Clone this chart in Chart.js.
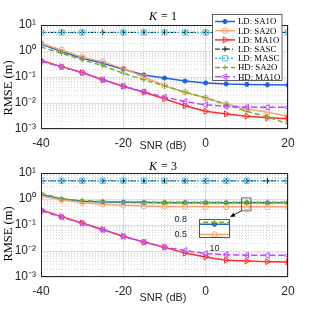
<!DOCTYPE html>
<html>
<head>
<meta charset="utf-8">
<script src="https://cdn.jsdelivr.net/npm/chart.js@4.4.0/dist/chart.umd.min.js"></script>
<style>
  html, body { margin: 0; padding: 0; background: #fff; }
  #wrap { position: relative; width: 316px; height: 311px; overflow: hidden; }
  canvas { position: absolute; }
</style>
</head>
<body>
<div id="wrap">
  <canvas id="c1" width="316" height="155" style="left:0;top:0"></canvas>
  <canvas id="c2" width="316" height="156" style="left:0;top:155px"></canvas>
  <canvas id="c3" width="65" height="44" style="left:170px;top:210px"></canvas>
</div>
<script>
// ── data ──
const snr = [-40, -35, -30, -25, -20, -15, -10, -5, 0, 5, 10, 15, 20];
const seriesNames = ['LD: SA1O', 'LD: SA2O', 'LD: MA1O', 'LD: SASC', 'LD: MASC', 'HD: SA2O', 'HD: MA1O'];

// K = 1
const k1_LD_SA1O = [1.86, 0.95, 0.53, 0.34, 0.20, 0.12, 0.091, 0.070, 0.059, 0.054, 0.052, 0.050, 0.049];
const k1_LD_SA2O = [2.0, 1.1, 0.58, 0.39, 0.21, 0.10, 0.046, 0.026, 0.0155, 0.0091, 0.0059, 0.0044, 0.0031];
const k1_LD_MA1O = [0.43, 0.25, 0.148, 0.078, 0.044, 0.026, 0.0146, 0.0079, 0.0048, 0.0038, 0.0031, 0.0027, 0.0025];
const k1_LD_SASC = [5.2, 5.2, 5.2, 5.2, 5.2, 5.2, 5.2, 5.2, 5.2, 5.2, 5.2, 5.2, 5.2];
const k1_LD_MASC = [5.2, 5.2, 5.2, 5.2, 5.2, 5.2, 5.2, 5.2, 5.2, 5.2, 5.2, 5.2, 5.2];
const k1_HD_SA2O = [1.44, 0.82, 0.46, 0.27, 0.14, 0.078, 0.046, 0.026, 0.016, 0.0085, 0.0048, 0.0029, 0.0016];
const k1_HD_MA1O = [0.40, 0.245, 0.145, 0.078, 0.044, 0.027, 0.017, 0.0114, 0.0085, 0.0074, 0.0070, 0.0068, 0.0068];

// K = 3
const k3_LD_SA1O = [1.45, 1.0, 0.82, 0.77, 0.75, 0.73, 0.72, 0.72, 0.71, 0.71, 0.71, 0.71, 0.71];
const k3_LD_SA2O = [1.3, 0.92, 0.73, 0.63, 0.57, 0.54, 0.52, 0.51, 0.5, 0.5, 0.5, 0.5, 0.5];
const k3_LD_MA1O = [0.39, 0.21, 0.12, 0.067, 0.037, 0.022, 0.014, 0.0083, 0.0059, 0.0044, 0.0041, 0.0039, 0.0038];
const k3_LD_SASC = [5.0, 5.0, 5.0, 5.0, 5.0, 5.0, 5.0, 5.0, 5.0, 5.0, 5.0, 5.0, 5.0];
const k3_LD_MASC = [5.0, 5.0, 5.0, 5.0, 5.0, 5.0, 5.0, 5.0, 5.0, 5.0, 5.0, 5.0, 5.0];
const k3_HD_SA2O = [1.7, 1.02, 0.87, 0.8, 0.77, 0.76, 0.75, 0.75, 0.75, 0.75, 0.75, 0.75, 0.75];
const k3_HD_MA1O = [0.35, 0.2, 0.115, 0.065, 0.036, 0.022, 0.014, 0.0105, 0.0079, 0.0072, 0.0069, 0.0068, 0.0068];

// ticks
const xTicks = [-40, -20, 0, 20];
const xMinorTicks = [-35, -30, -25, -15, -10, -5, 5, 10, 15];
const yTicks = [1e-3, 1e-2, 1e-1, 1, 10];
const yTickLabels = ['10⁻³', '10⁻²', '10⁻¹', '10⁰', '10¹'];
const insetYTicks = [0.5, 0.8];
const insetXTicks = [10];

// ── styles ──
const AX = '#262626';
const GRID = 'rgba(0,0,0,0.12)';
const GRID_MINOR = 'rgba(0,0,0,0.15)';
const SANS = '"Liberation Sans", Arial, sans-serif';
const SERIF = '"Liberation Serif", "Times New Roman", serif';

const styles = [
  { color: '#1f62e0', w: 1.5, dash: [],           point: 'circle',   r: 2.1, fill: true },
  { color: '#f8a66c', w: 1.5, dash: [],           point: 'circle',   r: 2.8, fill: false },
  { color: '#ff2d2d', w: 1.5, dash: [],           point: 'triangle', r: 3.4, rot: 90, fill: false },
  { color: '#111111', w: 1,   dash: [5, 2, 1, 2], point: 'cross',    r: 2.8, fill: false },
  { color: '#4dbeee', w: 1.5, dash: [2, 2],       point: 'rect',     r: 3.6, fill: false },
  { color: '#77ac30', w: 1.5, dash: [5, 3],       point: 'cross',    r: 2.8, fill: false },
  { color: '#bd4cff', w: 1.5, dash: [6, 3],       point: 'triangle', r: 3.4, rot: -90, fill: false }
];

// yMinor: 2..9 x each decade (grid only)
const yMinorTicks = [];
for (let e = -3; e < 1; e++) for (let m = 2; m <= 9; m++) yMinorTicks.push(m * Math.pow(10, e));

function mkSets(arrs, hideMarks) {
  return arrs.map((vals, i) => {
    const st = styles[i];
    const radius = hideMarks && hideMarks[i] ? snr.map(s => hideMarks[i].includes(s) ? 0 : st.r) : st.r;
    return {
      label: seriesNames[i],
      data: snr.map((x, j) => ({ x, y: vals[j] })),
      borderColor: st.color, borderWidth: st.w, borderDash: st.dash,
      pointStyle: st.point, pointRotation: st.rot || 0, pointRadius: radius,
      pointBorderColor: st.color, pointBorderWidth: 1,
      pointBackgroundColor: st.fill ? st.color : 'rgba(0,0,0,0)',
      tension: 0, fill: false, order: arrs.length - i,
      xAxisID: 'x', yAxisID: 'y'
    };
  });
}

function mainScales(xH) {
  return {
    x: {
      type: 'linear', min: -40, max: 20,
      afterBuildTicks: s => { s.ticks = xTicks.map(v => ({ value: v })); },
      ticks: { autoSkip: false, maxRotation: 0, padding: 7, color: AX, font: { family: SANS, size: 12 }, callback: v => String(v) },
      grid: { color: GRID, drawTicks: false }, border: { display: false },
      afterFit: s => { s.height = xH; }
    },
    xm: {
      type: 'linear', min: -40, max: 20, position: 'bottom',
      afterBuildTicks: s => { s.ticks = xMinorTicks.map(v => ({ value: v })); },
      ticks: { display: false }, grid: { color: GRID_MINOR, drawTicks: false },
      border: { display: false, dash: [1, 2] },
      afterFit: s => { s.height = 0; }
    },
    y: {
      type: 'logarithmic', min: 1e-3, max: 10,
      afterBuildTicks: s => { s.ticks = yTicks.map(v => ({ value: v })); },
      ticks: { autoSkip: false, padding: 5, color: AX, font: { family: SANS, size: 12 }, callback: (v, i) => yTickLabels[i] },
      grid: { color: GRID, drawTicks: false }, border: { display: false },
      afterFit: s => { s.width = 41; }
    },
    ym: {
      type: 'logarithmic', min: 1e-3, max: 10, position: 'left',
      afterBuildTicks: s => { s.ticks = yMinorTicks.map(v => ({ value: v })); },
      ticks: { display: false }, grid: { color: GRID_MINOR, drawTicks: false },
      border: { display: false, dash: [1, 2] },
      afterFit: s => { s.width = 0; }
    }
  };
}

function drawMark(ctx, st, x, y) {
  ctx.save();
  ctx.setLineDash([]);
  ctx.strokeStyle = st.color;
  ctx.fillStyle = st.fill ? st.color : 'rgba(0,0,0,0)';
  ctx.lineWidth = 1;
  Chart.helpers.drawPoint(ctx, { pointStyle: st.point, rotation: st.rot || 0, radius: st.r, borderWidth: 1 }, x, y);
  ctx.restore();
}

function decor(kText, titleY, ylabelY, xlabelY, extra) {
  return {
    id: 'decor',
    afterDraw(chart) {
      const ctx = chart.ctx, ca = chart.chartArea;
      ctx.save();
      ctx.setLineDash([]);
      ctx.strokeStyle = AX; ctx.lineWidth = 1;
      ctx.strokeRect(Math.round(ca.left) + 0.5, Math.round(ca.top) + 0.5,
        Math.round(ca.right - ca.left) - 1, Math.round(ca.bottom - ca.top) - 1);

      // title  K = n
      ctx.fillStyle = '#000'; ctx.textBaseline = 'alphabetic'; ctx.textAlign = 'left';
      ctx.font = 'italic 12px ' + SERIF;
      const wK = ctx.measureText('K').width;
      ctx.font = '12px ' + SERIF;
      const rest = ' = ' + kText;
      const wR = ctx.measureText(rest).width;
      const x0 = (ca.left + ca.right) / 2 - 2 - (wK + wR) / 2;
      ctx.font = 'italic 12px ' + SERIF;
      ctx.fillText('K', x0, titleY);
      ctx.font = '12px ' + SERIF;
      ctx.fillText(rest, x0 + wK + 1, titleY);

      // y label
      ctx.save();
      ctx.translate(9, ylabelY);
      ctx.rotate(-Math.PI / 2);
      ctx.textAlign = 'center'; ctx.textBaseline = 'middle';
      ctx.font = '12.5px ' + SERIF;
      ctx.fillText('RMSE (m)', 0, 0);
      ctx.restore();

      // x label
      ctx.textAlign = 'center'; ctx.textBaseline = 'middle';
      ctx.font = '11px ' + SANS; ctx.fillStyle = AX;
      ctx.fillText('SNR (dB)', 163, xlabelY);

      if (extra) extra(chart, ctx);
      ctx.restore();
    }
  };
}

function drawLegend(chart, ctx) {
  const bx = 212.5, by = 14.5, bw = 69.5, bh = 66;
  ctx.fillStyle = '#fff';
  ctx.fillRect(bx, by, bw, bh);
  ctx.strokeStyle = '#3a3a3a'; ctx.lineWidth = 0.8; ctx.setLineDash([]);
  ctx.strokeRect(bx, by, bw, bh);
  seriesNames.forEach((name, i) => {
    const st = styles[i];
    const y = 21.5 + i * 9.2;
    ctx.save();
    ctx.strokeStyle = st.color; ctx.lineWidth = st.w; ctx.setLineDash(st.dash);
    ctx.beginPath(); ctx.moveTo(215, y); ctx.lineTo(235, y); ctx.stroke();
    ctx.restore();
    drawMark(ctx, st, 225, y);
    ctx.fillStyle = '#000'; ctx.textAlign = 'left'; ctx.textBaseline = 'middle';
    ctx.font = '8.8px ' + SERIF;
    ctx.fillText(name, 238, y + 0.5);
  });
}

// inset chart area: page x 199..230, y 217..238
const INSET_RIGHT = 230, INSET_TOP_PAGE = 217;

function drawZoomBox(chart, ctx) {
  const sx = chart.scales.x, sy = chart.scales.y;
  const x0 = sx.getPixelForValue(8.7), x1 = sx.getPixelForValue(11);
  const y0 = sy.getPixelForValue(1.1), y1 = sy.getPixelForValue(0.35);
  ctx.strokeStyle = '#444'; ctx.lineWidth = 0.8; ctx.setLineDash([]);
  ctx.strokeRect(x0, y0, x1 - x0, y1 - y0);
  // arrow to inset corner
  const ex = INSET_RIGHT, ey = INSET_TOP_PAGE - 155;
  const dx = ex - x0, dy = ey - y1, len = Math.hypot(dx, dy);
  const ux = dx / len, uy = dy / len;
  ctx.strokeStyle = '#000'; ctx.fillStyle = '#000'; ctx.lineWidth = 0.8;
  ctx.beginPath(); ctx.moveTo(x0, y1); ctx.lineTo(ex - ux * 4, ey - uy * 4); ctx.stroke();
  ctx.beginPath();
  ctx.moveTo(ex, ey);
  ctx.lineTo(ex - ux * 5 - uy * 2.2, ey - uy * 5 + ux * 2.2);
  ctx.lineTo(ex - ux * 5 + uy * 2.2, ey - uy * 5 - ux * 2.2);
  ctx.closePath(); ctx.fill();
}

// ── K = 1 ──
new Chart(document.getElementById('c1'), {
  type: 'line',
  data: { datasets: mkSets([k1_LD_SA1O, k1_LD_SA2O, k1_LD_MA1O, k1_LD_SASC, k1_LD_MASC, k1_HD_SA2O, k1_HD_MA1O],
    { 4: [-25] }) },
  options: {
    responsive: false, animation: false, devicePixelRatio: 1,
    layout: { padding: { left: 0, top: 25, right: 28, bottom: 0 } },
    plugins: { legend: { display: false }, tooltip: { enabled: false } },
    scales: mainScales(26)
  },
  plugins: [decor('1', 20, 88, 146, drawLegend)]
});

// ── K = 3 ──
new Chart(document.getElementById('c2'), {
  type: 'line',
  data: { datasets: mkSets([k3_LD_SA1O, k3_LD_SA2O, k3_LD_MA1O, k3_LD_SASC, k3_LD_MASC, k3_HD_SA2O, k3_HD_MA1O],
    { 4: [15] }) },
  options: {
    responsive: false, animation: false, devicePixelRatio: 1,
    layout: { padding: { left: 0, top: 18, right: 28, bottom: 0 } },
    plugins: { legend: { display: false }, tooltip: { enabled: false } },
    scales: mainScales(34)
  },
  plugins: [decor('3', 15, 79, 143, drawZoomBox)]
});

// ── inset (K = 3, around SNR = 10 dB) ──
new Chart(document.getElementById('c3'), {
  type: 'line',
  data: { datasets: mkSets([k3_LD_SA1O, k3_LD_SA2O, k3_LD_MA1O, k3_LD_SASC, k3_LD_MASC, k3_HD_SA2O, k3_HD_MA1O]) },
  options: {
    responsive: false, animation: false, devicePixelRatio: 1,
    layout: { padding: { left: 0, top: 7, right: 5, bottom: 0 } },
    plugins: { legend: { display: false }, tooltip: { enabled: false } },
    scales: {
      x: {
        type: 'linear', min: 8.85, max: 11.15,
        afterBuildTicks: s => { s.ticks = insetXTicks.map(v => ({ value: v })); },
        ticks: { autoSkip: false, maxRotation: 0, padding: -3, color: AX, font: { family: SANS, size: 9 }, callback: v => String(v) },
        grid: { display: false }, border: { display: false },
        afterFit: s => { s.height = 16; }
      },
      y: {
        type: 'linear', min: 0.43, max: 0.81,
        afterBuildTicks: s => { s.ticks = insetYTicks.map(v => ({ value: v })); },
        ticks: { autoSkip: false, padding: 4, color: AX, font: { family: SANS, size: 9 }, callback: v => v.toFixed(1) },
        grid: { display: false }, border: { display: false },
        afterFit: s => { s.width = 29; }
      }
    }
  },
  plugins: [{
    id: 'insetFrame',
    beforeDatasetsDraw(chart) {
      const ca = chart.chartArea, ctx = chart.ctx;
      ctx.save(); ctx.fillStyle = '#fff';
      ctx.fillRect(ca.left, ca.top, ca.right - ca.left, ca.bottom - ca.top);
      ctx.restore();
    },
    afterDraw(chart) {
      const ca = chart.chartArea, ctx = chart.ctx;
      ctx.save(); ctx.strokeStyle = '#555'; ctx.lineWidth = 1; ctx.setLineDash([]);
      ctx.strokeRect(Math.round(ca.left) + 0.5, Math.round(ca.top) + 0.5,
        Math.round(ca.right - ca.left) - 1, Math.round(ca.bottom - ca.top) - 1);
      ctx.restore();
    }
  }]
});
</script>
</body>
</html>
